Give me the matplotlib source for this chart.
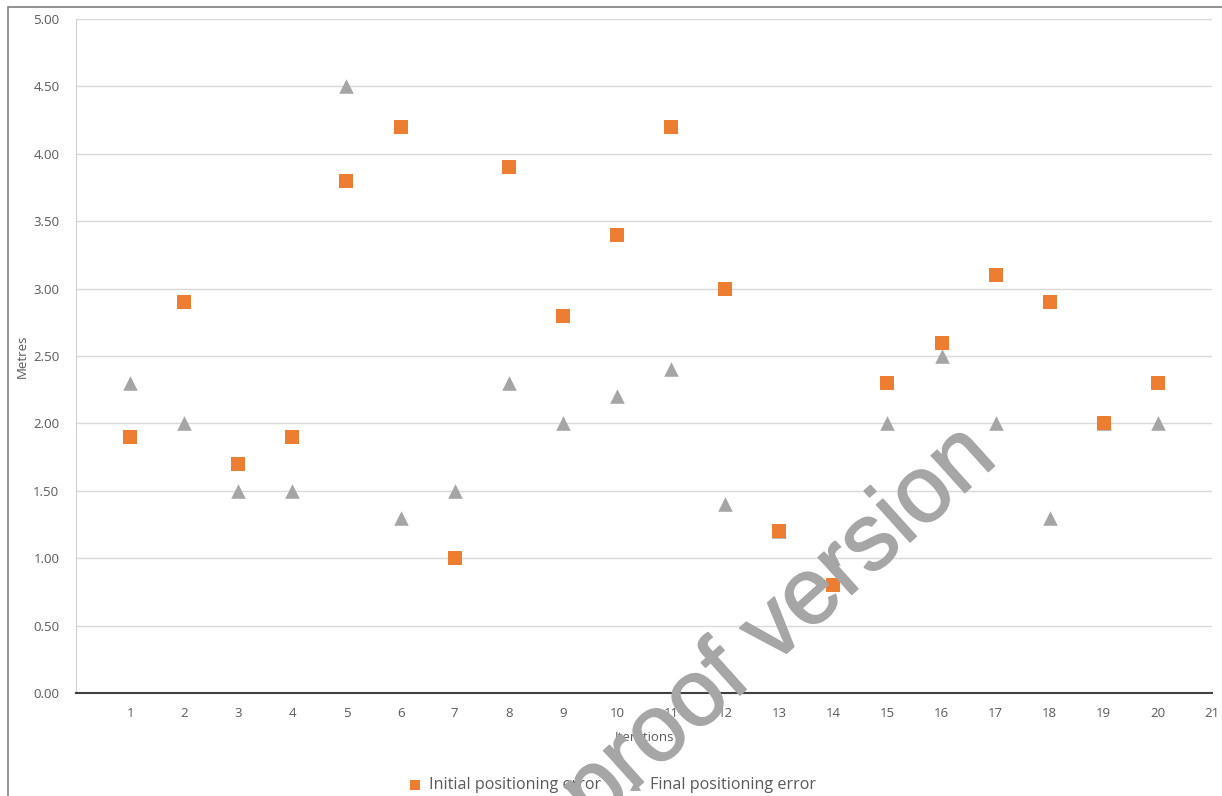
import matplotlib
matplotlib.use('Agg')
import matplotlib.pyplot as plt
import matplotlib.patheffects as pe
from matplotlib.patches import Rectangle

iterations = list(range(1, 21))
initial_error = [1.9, 2.9, 1.7, 1.9, 3.8, 4.2, 1.0, 3.9, 2.8, 3.4,
                 4.2, 3.0, 1.2, 0.8, 2.3, 2.6, 3.1, 2.9, 2.0, 2.3]
final_error = [2.3, 2.0, 1.5, 1.5, 4.5, 1.3, 1.5, 2.3, 2.0, 2.2,
               2.4, 1.4, 1.2, 1.0, 2.0, 2.5, 2.0, 1.3, 2.0, 2.0]
y_ticks = [0.0, 0.5, 1.0, 1.5, 2.0, 2.5, 3.0, 3.5, 4.0, 4.5, 5.0]
x_ticks = list(range(1, 22))

ORANGE = '#ED7D31'
GREY = '#A5A5A5'
TXT = '#595959'

plt.rcParams['font.family'] = ['Open Sans', 'DejaVu Sans']

W, H = 1222, 796
fig = plt.figure(figsize=(W / 100, H / 100), dpi=100)
fig.patch.set_facecolor('white')

# outer chart frame
fig.add_artist(Rectangle((8 / W, -0.1), 1.5, 1.1 - 7 / H, transform=fig.transFigure,
                         fill=False, edgecolor='#808080', linewidth=1.2))

ax = fig.add_axes([76 / W, (H - 693) / H, (1212 - 76) / W, (693 - 19) / H])
ax.scatter(iterations, final_error, marker='^', s=110, color=GREY, zorder=3,
           label='Final positioning error', linewidths=0)
ax.scatter(iterations, initial_error, marker='s', s=110, color=ORANGE, zorder=4,
           label='Initial positioning error', linewidths=0)

ax.set_xlim(0, 21)
ax.set_ylim(0, 5)
ax.set_xticks(x_ticks)
ax.set_yticks(y_ticks)
ax.set_yticklabels([f'{v:.2f}' for v in y_ticks])
ax.tick_params(axis='both', length=0, labelsize=9.5, colors=TXT)
ax.tick_params(axis='x', pad=10)
ax.tick_params(axis='y', pad=12)
ax.grid(axis='y', color='#d9d9d9', linewidth=1)
ax.set_axisbelow(True)
for s in ['top', 'right']:
    ax.spines[s].set_visible(False)
ax.spines['left'].set_color('#d0d0d0')
ax.spines['bottom'].set_color('#404040')
ax.spines['bottom'].set_linewidth(1.5)
ax.spines['bottom'].set_zorder(5)

ax.set_ylabel('Metres', fontsize=9.5, color=TXT, labelpad=3)
ax.set_xlabel('Iterations', fontsize=9.5, color=TXT, labelpad=8)

handles, labels = ax.get_legend_handles_labels()
fig.legend(handles[::-1], labels[::-1], loc='center', bbox_to_anchor=(607 / W, 1 - 785 / H),
           ncol=2, frameon=False, fontsize=11.6, labelcolor=TXT, handletextpad=-0.1,
           columnspacing=1.1, markerscale=0.75)

# watermark
fig.text(780 / W, 1 - 626 / H, 'proof version', fontsize=68, color='#a6a6a6',
         rotation=42, ha='center', va='center', family='Liberation Sans', zorder=10,
         path_effects=[pe.withStroke(linewidth=1.2, foreground='#a6a6a6')])

fig.savefig('out.png', dpi=100)
